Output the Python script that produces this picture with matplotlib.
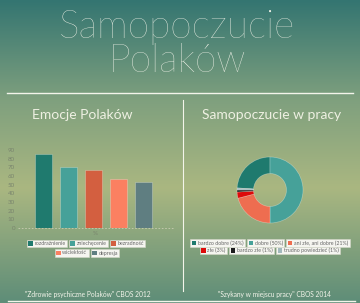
import numpy as np
import matplotlib
matplotlib.use("Agg")
import matplotlib.pyplot as plt
from matplotlib.colors import LinearSegmentedColormap
from matplotlib.lines import Line2D
from matplotlib.patches import Rectangle

# data
emotions = ["rozdrażnienie", "zniechęcenie", "bezradność", "wściekłość", "depresja"]
emotion_pct = [85, 70, 67, 57, 53]
emotion_colors = ["#1f7a6e", "#46a199", "#d35f40", "#fb8061", "#5f7e81"]

work_labels = ["bardzo dobre (24%)", "dobre (50%)", "ani złe, ani dobre (21%)",
               "złe (3%)", "bardzo złe (1%)", "trudno powiedzieć (1%)"]
work_pct = [24, 50, 21, 3, 1, 1]
work_colors = ["#1f7a6e", "#46a199", "#ee6d50", "#dd0a0a", "#1c1c1c", "#a3b9bd"]

y_ticks = list(range(0, 100, 10))

W, H = 360, 303
FONT = "Lato"
TXT = "#f3f4ea"
TICK = "#7a856e"


def fx(px):
    return px / W


def fy(py):
    return 1 - py / H


fig = plt.figure(figsize=(3.6, 3.03), dpi=100)

# gradient background
bg = fig.add_axes([0, 0, 1, 1], zorder=-10)
cmap = LinearSegmentedColormap.from_list(
    "bg", [(0, "#347571"), (0.33, "#7fa07e"), (0.62, "#aab781"), (1, "#5e8d78")])
bg.imshow(np.linspace(0, 1, 256)[:, None], aspect="auto", cmap=cmap,
          extent=[0, 1, 0, 1], origin="upper")
bg.axis("off")

# title
fig.text(fx(177), fy(38), "Samopoczucie", fontsize=28, family=FONT, weight="light",
         color=TXT, ha="center", va="baseline")
fig.text(fx(177), fy(72), "Polaków", fontsize=28, family=FONT, weight="light",
         color=TXT, ha="center", va="baseline")

# divider lines
fig.add_artist(Line2D([fx(7), fx(353)], [fy(93), fy(93)], color=TXT, lw=1))
fig.add_artist(Line2D([fx(183), fx(183)], [fy(100), fy(291)], color=TXT, lw=0.8))
fig.add_artist(Line2D([fx(8), fx(355)], [fy(301), fy(301)], color=TXT, lw=1))

# subtitles
fig.text(fx(82), fy(115), "Emocje Polaków", fontsize=10, family=FONT,
         color="#eef0e2", ha="center", va="center")
fig.text(fx(272), fy(115), "Samopoczucie w pracy", fontsize=10, family=FONT,
         color="#eef0e2", ha="center", va="center")

# bar chart
ax = fig.add_axes([fx(18), fy(228), (173 - 18) / W, (228 - 150) / H])
ax.set_facecolor("none")
x = np.arange(len(emotions))
ax.bar(x, emotion_pct, width=0.68, color=emotion_colors,
       edgecolor=(1, 1, 1, 0.35), linewidth=0.5)
ax.set_xlim(-1.0, 5.2)
ax.set_ylim(0, 90)
ax.set_yticks(y_ticks)
ax.set_yticklabels([str(v) for v in y_ticks], family=FONT, fontsize=4.5, color=TICK)
ax.set_xticks([])
ax.tick_params(axis="y", length=0, pad=2.0)
for s in ax.spines.values():
    s.set_visible(False)
ax.axhline(0, color="#c9ccb2", lw=0.6, ls=(0, (2, 2)), clip_on=False)
ax.set_xlabel("%", family=FONT, fontsize=4.5, color=TICK, labelpad=2)

# donut chart
pax = fig.add_axes([fx(237), fy(223), 66 / W, 66 / H])
start = 90 + 360 * work_pct[0] / sum(work_pct)
pax.pie(work_pct, colors=work_colors, startangle=start, counterclock=False,
        radius=1.0, wedgeprops=dict(width=0.5, edgecolor=(1, 1, 1, 0.4), linewidth=0.4))
pax.set_xlim(-1, 1)
pax.set_ylim(-1, 1)
pax.axis("off")


def legend_row(items, colors, cx, cy, fs=3.8):
    r = fig.canvas.get_renderer()
    pad, sq, sep, bh = 1.6, 4.5, 1.8, 7.5
    texts, widths = [], []
    for lab in items:
        t = fig.text(0, 0, lab, fontsize=fs, family=FONT, color="#666666",
                     ha="left", va="center")
        w = t.get_window_extent(r).width
        texts.append(t)
        widths.append(w + sq + 3 * pad)
    total = sum(widths) + sep * (len(items) - 1)
    left = cx - total / 2
    for t, w, c in zip(texts, widths, colors):
        fig.add_artist(Rectangle((fx(left), fy(cy + bh / 2)), w / W, bh / H,
                                 transform=fig.transFigure, fc="#f5f5f0",
                                 ec="#d4d6c8", lw=0.4))
        fig.add_artist(Rectangle((fx(left + pad), fy(cy + sq / 2)), sq / W, sq / H,
                                 transform=fig.transFigure, fc=c, ec="none"))
        t.set_position((fx(left + 2 * pad + sq), fy(cy)))
        left += w + sep


legend_row(emotions[:3], emotion_colors[:3], 86, 243.5)
legend_row(emotions[3:], emotion_colors[3:], 87, 253)
legend_row(work_labels[:3], work_colors[:3], 270, 243)
legend_row(work_labels[3:], work_colors[3:], 270, 250.5)

# sources
fig.text(fx(88), fy(294.5), "\"Zdrowie psychiczne Polaków\" CBOS 2012", fontsize=4.8,
         family=FONT, color=TXT, ha="center", va="center")
fig.text(fx(274), fy(294.5), "\"Szykany w miejscu pracy\" CBOS 2014", fontsize=4.8,
         family=FONT, color=TXT, ha="center", va="center")

fig.savefig("out.png", dpi=100)
